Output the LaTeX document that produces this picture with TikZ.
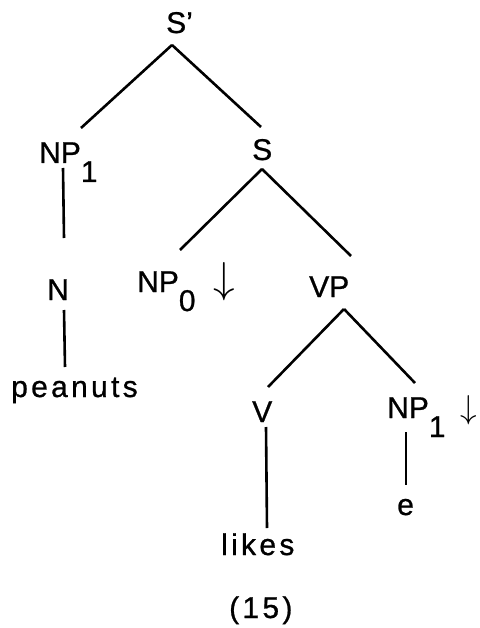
\documentclass[tikz,border=0pt]{standalone}
\usepackage{graphicx}
\usepackage{fontspec}
\setmainfont{Liberation Sans}[FakeBold=0.8]
\begin{document}
\begin{tikzpicture}[x=1pt,y=-1pt,
  lab/.style={anchor=base west,inner sep=0pt,font=\fontsize{30}{32}\selectfont},
  word/.style={lab,font=\fontsize{30}{32}\selectfont\addfontfeature{LetterSpace=11}},
  edge/.style={line width=2.6pt}]
\newcommand\subdig[1]{\raisebox{-19pt}{#1}}
\newcommand\dnarr[1]{\resizebox{!}{#1}{$\downarrow$}}
\useasboundingbox (0,0) rectangle (479,628);
% labels
\node[lab] (sp) at (166,33) {S’};
\node[lab] (np1l) at (39,163) {NP\subdig{1}};
\node[lab] (s) at (252,160) {S};
\node[lab] (n) at (47,300) {N};
\node[lab] (np0) at (137,292) {NP\subdig{0}\hspace{18pt}\raisebox{-0.5pt}{\dnarr{30pt}}};
\node[lab] (vp) at (309,297) {VP};
\node[word] (peanuts) at (11,397) {peanuts};
\node[lab] (v) at (252,422) {V};
\node[lab] (np1r) at (387,418) {NP\subdig{1}\hspace{15pt}\raisebox{0pt}{\dnarr{23pt}}};
\node[lab] (e) at (397,515) {e};
\node[word] (likes) at (221,555) {likes};
\node[word] (num) at (229,618) {(15)};
% attachment points
\coordinate (sp-b) at (172,45);
\coordinate (np1l-t) at (81,128);
\coordinate (np1l-b) at (63,168);
\coordinate (s-t) at (261,127);
\coordinate (s-b) at (262,169);
\coordinate (n-t) at (64,238);
\coordinate (n-b) at (64,310);
\coordinate (np0-t) at (180,250);
\coordinate (vp-t) at (351,256);
\coordinate (vp-b) at (344,309);
\coordinate (peanuts-t) at (65,367);
\coordinate (v-t) at (268,387);
\coordinate (v-b) at (266,427);
\coordinate (np1r-t) at (415,383);
\coordinate (np1r-b) at (406,432);
\coordinate (likes-t) at (267,528);
\coordinate (e-t) at (406,485);
% connectors
\draw[edge] (sp-b) -- (np1l-t);
\draw[edge] (sp-b) -- (s-t);
\draw[edge] (np1l-b) -- (n-t);
\draw[edge] (s-b) -- (np0-t);
\draw[edge] (s-b) -- (vp-t);
\draw[edge] (n-b) -- (peanuts-t);
\draw[edge] (vp-b) -- (v-t);
\draw[edge] (vp-b) -- (np1r-t);
\draw[edge] (v-b) -- (likes-t);
\draw[edge] (np1r-b) -- (e-t);
\end{tikzpicture}
\end{document}
